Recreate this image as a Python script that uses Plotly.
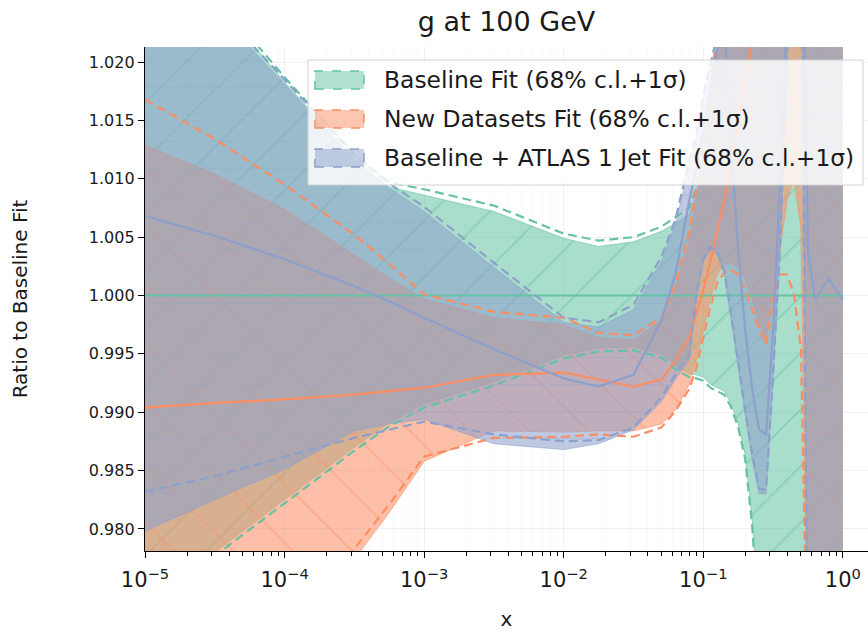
import plotly.graph_objects as go

# ---------------- data ----------------
log_x = [-5, -4.5, -4, -3.5, -3.25, -3, -2.5, -2, -1.75, -1.5, -1.3, -1.2, -1.1, -1.05, -1.0,
         -0.95, -0.9, -0.85, -0.8, -0.75, -0.7, -0.65, -0.6, -0.55, -0.5, -0.45, -0.4,
         -0.35, -0.3, -0.25, -0.2, -0.1, 0.0]

base_central = [1.0, 1.0, 1.0, 1.0, 1.0, 1.0, 1.0, 1.0, 1.0, 1.0, 1.0, 1.0, 1.0, 1.0, 1.0, 1.0, 1.0,
                1.0, 1.0, 1.0, 1.0, 1.0, 1.0, 1.0, 1.0, 1.0, 1.0, 1.0, 1.0, 1.0, 1.0, 1.0, 1.0]
base_cl_lo = [0.9737, 0.9780, 0.9825, 0.9870, 0.9891, 0.9907, 0.9926, 0.9949, 0.9955, 0.9956, 0.9950,
              0.9940, 0.9933, 0.9932, 0.9930, 0.9924, 0.9921, 0.9918, 0.9907, 0.9890, 0.9864,
              0.9808, 0.9723, 0.965, 0.965, 0.965, 0.965, 0.965, 0.965, 0.965, 0.965, 0.965, 0.965]
base_cl_hi = [1.0318, 1.0253, 1.0183, 1.0117, 1.0093, 1.0086, 1.0072, 1.0049, 1.0042, 1.0046, 1.0055,
              1.0062, 1.0070, 1.0087, 1.0116, 1.0159, 1.0211, 1.0270, 1.035, 1.035, 1.035,
              1.035, 1.035, 1.035, 1.035, 1.035, 1.035, 1.035, 1.035, 1.035, 1.035, 1.035, 1.035]
base_sd_lo = [0.9734, 0.9777, 0.9822, 0.9867, 0.9888, 0.9904, 0.9923, 0.9946, 0.9952, 0.9953, 0.9947,
              0.9937, 0.9930, 0.9929, 0.9927, 0.9921, 0.9918, 0.9915, 0.9904, 0.9887, 0.9860,
              0.9803, 0.9715, 0.964, 0.964, 0.964, 0.964, 0.964, 0.964, 0.964, 0.964, 0.964, 0.964]
base_sd_hi = [1.0322, 1.0257, 1.0187, 1.0121, 1.0097, 1.0091, 1.0077, 1.0053, 1.0047, 1.0050, 1.0059,
              1.0067, 1.0075, 1.0093, 1.0123, 1.0166, 1.0219, 1.0280, 1.036, 1.036, 1.036,
              1.036, 1.036, 1.036, 1.036, 1.036, 1.036, 1.036, 1.036, 1.036, 1.036, 1.036, 1.036]

new_central = [0.9904, 0.9908, 0.9911, 0.9915, 0.9918, 0.9921, 0.9932, 0.9934, 0.9928, 0.9922, 0.9928,
               0.9944, 0.9964, 0.9984, 1.0005, 1.0029, 1.0055, 1.0082, 1.0112, 1.0146, 1.0181,
               1.0219, 1.0271, 1.03, 1.03, 1.03, 1.03, 1.03, 1.03, 1.03, 1.03, 1.03, 1.03]
new_cl_lo = [0.9671, 0.9706, 0.9740, 0.9774, 0.9814, 0.9858, 0.9884, 0.9883, 0.9884, 0.9884, 0.9890,
             0.9902, 0.9924, 0.9945, 0.9971, 0.9997, 1.0018, 1.0027, 1.0027, 1.0024, 1.0014,
             0.9997, 0.9975, 0.9962, 1.0005, 1.0039, 1.0082, 1.0099, 1.0057, 0.965, 0.965, 0.965, 0.965]
new_cl_hi = [1.0129, 1.0104, 1.0074, 1.0035, 1.0015, 0.9997, 0.9981, 0.9975, 0.9964, 0.9962, 0.9979,
             1.0005, 1.0048, 1.0082, 1.0125, 1.0168, 1.0219, 1.0279, 1.035, 1.035, 1.035,
             1.035, 1.035, 1.035, 1.035, 1.035, 1.035, 1.035, 1.035, 1.035, 1.035, 1.035, 1.035]
new_sd_lo = [0.9654, 0.9680, 0.9714, 0.9783, 0.9821, 0.9862, 0.9878, 0.9879, 0.9881, 0.9879, 0.9887,
             0.9901, 0.9920, 0.9938, 0.9964, 0.9990, 1.0011, 1.0020, 1.0022, 1.0018, 1.0005,
             0.9988, 0.9971, 0.9958, 0.9997, 1.0018, 1.0018, 1.0001, 0.9954, 0.964, 0.964, 0.964, 0.964]
new_sd_hi = [1.0168, 1.0134, 1.0095, 1.0052, 1.0027, 1.0001, 0.9986, 0.9981, 0.9968, 0.9966, 0.9981,
             1.0009, 1.0056, 1.0091, 1.0133, 1.0176, 1.0228, 1.0288, 1.036, 1.036, 1.036,
             1.036, 1.036, 1.036, 1.036, 1.036, 1.036, 1.036, 1.036, 1.036, 1.036, 1.036, 1.036]

jet_central = [1.0068, 1.0051, 1.0031, 1.0008, 0.9995, 0.9981, 0.9954, 0.9929, 0.9922, 0.9932, 0.9979,
               1.0018, 1.0082, 1.0108, 1.0142, 1.0176, 1.0211, 1.0236, 1.0125, 1.0039, 0.9971,
               0.9920, 0.9885, 0.9881, 0.9971, 1.0099, 1.0260, 1.040, 1.040, 1.0039, 0.9997, 1.0014, 0.9997]
jet_cl_lo = [0.9798, 0.9825, 0.9851, 0.9884, 0.9890, 0.9894, 0.9873, 0.9868, 0.9873, 0.9885, 0.9909,
             0.9928, 0.9945, 0.9997, 1.0029, 1.0039, 1.0035, 1.0018, 0.9979, 0.9937, 0.9898,
             0.9860, 0.9830, 0.9830, 0.9928, 1.0039, 1.0219, 1.035, 1.035, 0.965, 0.965, 0.965, 0.965]
jet_cl_hi = [1.0305, 1.0245, 1.0181, 1.0116, 1.0092, 1.0072, 1.0024, 0.9977, 0.9973, 0.9988, 1.0029,
             1.0061, 1.0112, 1.0134, 1.0168, 1.0194, 1.0219, 1.0245, 1.035, 1.035, 1.035,
             1.035, 1.035, 1.035, 1.035, 1.035, 1.035, 1.035, 1.035, 1.035, 1.035, 1.035, 1.035]
jet_sd_lo = [0.9832, 0.9845, 0.9862, 0.9878, 0.9885, 0.9892, 0.9881, 0.9875, 0.9876, 0.9887, 0.9913,
             0.9932, 0.9949, 1.0001, 1.0032, 1.0042, 1.0038, 1.0021, 0.9983, 0.9941, 0.9902,
             0.9864, 0.9834, 0.9834, 0.9932, 1.0044, 1.0223, 1.036, 1.036, 0.964, 0.964, 0.964, 0.964]
jet_sd_hi = [1.0309, 1.0249, 1.0185, 1.0120, 1.0096, 1.0076, 1.0028, 0.9981, 0.9977, 0.9992, 1.0033,
             1.0065, 1.0116, 1.0138, 1.0172, 1.0198, 1.0223, 1.0249, 1.036, 1.036, 1.036,
             1.036, 1.036, 1.036, 1.036, 1.036, 1.036, 1.036, 1.036, 1.036, 1.036, 1.036, 1.036]

legend_labels = ["Baseline Fit (68% c.l.+1σ)",
                 "New Datasets Fit (68% c.l.+1σ)",
                 "Baseline + ATLAS 1 Jet Fit (68% c.l.+1σ)"]
y_ticks = [0.980, 0.985, 0.990, 0.995, 1.000, 1.005, 1.010, 1.015, 1.020]
x_tick_exps = [-5, -4, -3, -2, -1, 0]

# ---------------- styling ----------------
x = [10 ** v for v in log_x]
FONT = "DejaVu Sans"
fits = [
    dict(rgb=(102, 194, 165), hatch="/", hsize=40, ha=0.95, c=base_central, lo=base_cl_lo, hi=base_cl_hi,
         slo=base_sd_lo, shi=base_sd_hi),
    dict(rgb=(252, 141, 98), hatch="\\", hsize=42, ha=0.85, c=new_central, lo=new_cl_lo, hi=new_cl_hi,
         slo=new_sd_lo, shi=new_sd_hi),
    dict(rgb=(141, 160, 203), hatch="-", hsize=27, ha=0.6, c=jet_central, lo=jet_cl_lo, hi=jet_cl_hi,
         slo=jet_sd_lo, shi=jet_sd_hi),
]


def rgba(rgb, a):
    return "rgba(%d,%d,%d,%.3f)" % (rgb[0], rgb[1], rgb[2], a)


fig = go.Figure()

# bands first
for f in fits:
    fig.add_trace(go.Scatter(x=x, y=f["lo"], mode="lines", showlegend=False, hoverinfo="skip",
                             line=dict(color=rgba(f["rgb"], 0.6), width=1)))
    fig.add_trace(go.Scatter(x=x, y=f["hi"], mode="lines", showlegend=False, hoverinfo="skip",
                             fill="tonexty", fillcolor=rgba(f["rgb"], 0.56),
                             fillpattern=dict(shape=f["hatch"], fgcolor=rgba(f["rgb"], f["ha"]),
                                              size=f["hsize"], solidity=0.045, fillmode="overlay"),
                             line=dict(color=rgba(f["rgb"], 0.6), width=1)))

# lines on top
for f in fits:
    fig.add_trace(go.Scatter(x=x, y=f["c"], mode="lines", showlegend=False, hoverinfo="skip",
                             line=dict(color=rgba(f["rgb"], 1), width=2.2)))
    for key in ("slo", "shi"):
        fig.add_trace(go.Scatter(x=x, y=f[key], mode="lines", showlegend=False, hoverinfo="skip",
                                 line=dict(color=rgba(f["rgb"], 1), width=2.2, dash="9px,5px")))

# ---------------- layout ----------------
L, R, T, B = 145, 0, 47, 84
W, H = 868, 635
pw, ph = W - L - R, H - T - B


def px2paper(px, py):
    return (px - L) / pw, (H - B - py) / ph


minor_vals = [m * 10 ** e for e in range(-5, 1) for m in range(2, 10)]

shapes = []
annotations = []
bx0, by0 = px2paper(308, 185)
bx1, by1 = px2paper(863, 60)
shapes.append(dict(type="rect", xref="paper", yref="paper", x0=bx0, y0=by0, x1=bx1, y1=by1,
                   fillcolor="rgba(255,255,255,0.82)", line=dict(color="rgb(210,210,210)", width=1),
                   layer="above"))
row_centers = [80, 119, 158]
for f, lab, cy in zip(fits, legend_labels, row_centers):
    px0, py0 = px2paper(315, cy + 9)
    px1, py1 = px2paper(364, cy - 9)
    shapes.append(dict(type="rect", xref="paper", yref="paper", x0=px0, y0=py0, x1=px1, y1=py1,
                       fillcolor=rgba(f["rgb"], 0.5),
                       line=dict(color=rgba(f["rgb"], 1), width=1.5, dash="dash"), layer="above"))
    tx, ty = px2paper(382, cy)
    annotations.append(dict(text=lab, xref="paper", yref="paper", x=tx, y=ty, xanchor="left",
                            yanchor="middle", showarrow=False,
                            font=dict(family=FONT, size=23.4, color="#1a1a1a")))

fig.update_layout(
    width=W, height=H, autosize=False,
    margin=dict(l=L, r=R, t=T, b=B, pad=0),
    paper_bgcolor="white", plot_bgcolor="white",
    font=dict(family=FONT, color="#1a1a1a"),
    showlegend=False,
    title=dict(text="g at 100 GeV", x=0.5, xref="paper", xanchor="center",
               y=1 - 22 / H, yref="container", yanchor="middle",
               font=dict(family=FONT, size=27, color="#1a1a1a")),
    shapes=shapes, annotations=annotations,
    xaxis=dict(type="log", range=[-5, 0.18],
               tickvals=[10 ** e for e in x_tick_exps],
               ticktext=["10<sup>%s</sup>" % (str(e).replace("-", "−")) for e in x_tick_exps],
               tickfont=dict(family=FONT, size=21, color="#1a1a1a"),
               ticklabelstandoff=4,
               showline=True, linecolor="black", linewidth=1.3, mirror=False,
               ticks="outside", ticklen=6, tickwidth=1.3, tickcolor="black",
               showgrid=True, gridcolor="rgba(0,0,0,0.06)", zeroline=False,
               minor=dict(tickvals=minor_vals, ticks="outside", ticklen=3.5, tickwidth=1,
                          tickcolor="black", showgrid=True, gridcolor="rgba(0,0,0,0.025)"),
               title=dict(text="x", font=dict(family=FONT, size=20, color="#1a1a1a"), standoff=20)),
    yaxis=dict(range=[0.97811, 1.02129],
               tickvals=y_ticks, ticktext=["%.3f" % v for v in y_ticks],
               tickfont=dict(family=FONT, size=16, color="#1a1a1a"),
               showline=True, linecolor="black", linewidth=1.3, mirror=False,
               ticks="outside", ticklen=6, tickwidth=1.3, tickcolor="black",
               showgrid=True, gridcolor="rgba(0,0,0,0.06)", zeroline=False,
               title=dict(text="Ratio to Baseline Fit", font=dict(family=FONT, size=20, color="#1a1a1a"),
                          standoff=55)),
)

fig.write_html("out.html")
